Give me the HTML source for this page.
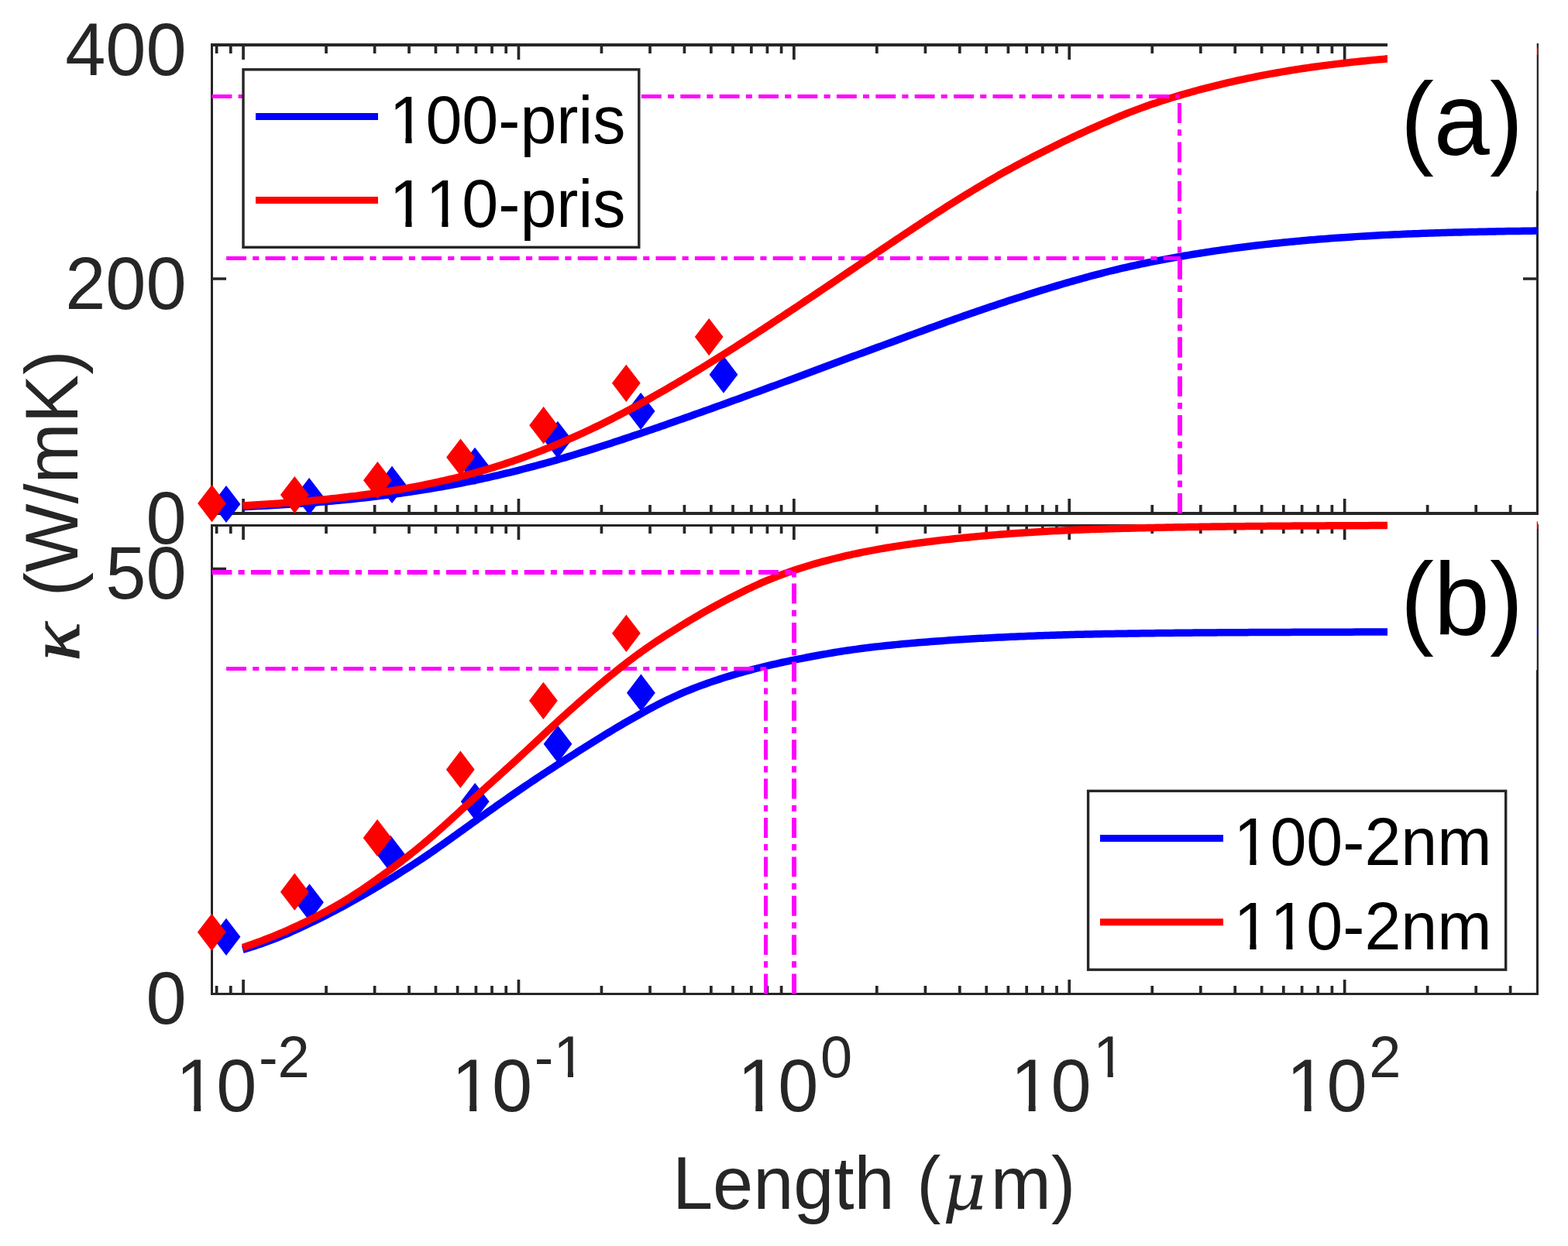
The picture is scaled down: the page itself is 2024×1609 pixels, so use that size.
<!DOCTYPE html>
<html lang="en"><head><meta charset="utf-8"><title>Thermal conductivity vs length</title>
<style>html,body{margin:0;padding:0;background:#fff}body{width:2024px;height:1609px;overflow:hidden;position:relative}</style></head>
<body>
<svg role="img" aria-label="Thermal conductivity versus length, panels (a) and (b)" width="2024" height="1609" viewBox="0 0 2024 1609" style="position:absolute;left:0;top:0;display:block;font-kerning:none" font-family="'Liberation Sans', Arial, Helvetica, sans-serif">
<rect width="2024" height="1609" fill="#fff"/>
<g fill="#262626" shape-rendering="crispEdges">
<rect x="272" y="56" width="1714" height="4"/>
<rect x="272" y="661" width="1714" height="4"/>
<rect x="272" y="56" width="3" height="609"/>
<rect x="1983" y="56" width="3" height="609"/>
</g>
<path d="M279.61 662v-10.0M279.61 59v10.0M297.79 662v-10.0M297.79 59v10.0M314.05 662v-18.0M314.05 59v18.0M421.04 662v-10.0M421.04 59v10.0M483.62 662v-10.0M483.62 59v10.0M528.02 662v-10.0M528.02 59v10.0M562.46 662v-10.0M562.46 59v10.0M590.60 662v-10.0M590.60 59v10.0M614.40 662v-10.0M614.40 59v10.0M635.01 662v-10.0M635.01 59v10.0M653.19 662v-10.0M653.19 59v10.0M669.45 662v-18.0M669.45 59v18.0M776.44 662v-10.0M776.44 59v10.0M839.02 662v-10.0M839.02 59v10.0M883.42 662v-10.0M883.42 59v10.0M917.86 662v-10.0M917.86 59v10.0M946.00 662v-10.0M946.00 59v10.0M969.80 662v-10.0M969.80 59v10.0M990.41 662v-10.0M990.41 59v10.0M1008.59 662v-10.0M1008.59 59v10.0M1024.85 662v-18.0M1024.85 59v18.0M1131.84 662v-10.0M1131.84 59v10.0M1194.42 662v-10.0M1194.42 59v10.0M1238.82 662v-10.0M1238.82 59v10.0M1273.26 662v-10.0M1273.26 59v10.0M1301.40 662v-10.0M1301.40 59v10.0M1325.20 662v-10.0M1325.20 59v10.0M1345.81 662v-10.0M1345.81 59v10.0M1363.99 662v-10.0M1363.99 59v10.0M1380.25 662v-18.0M1380.25 59v18.0M1487.24 662v-10.0M1487.24 59v10.0M1549.82 662v-10.0M1549.82 59v10.0M1594.22 662v-10.0M1594.22 59v10.0M1628.66 662v-10.0M1628.66 59v10.0M1656.80 662v-10.0M1656.80 59v10.0M1680.60 662v-10.0M1680.60 59v10.0M1701.21 662v-10.0M1701.21 59v10.0M1719.39 662v-10.0M1719.39 59v10.0M1735.65 662v-18.0M1735.65 59v18.0M1842.64 662v-10.0M1842.64 59v10.0M1905.22 662v-10.0M1905.22 59v10.0M1949.62 662v-10.0M1949.62 59v10.0M274 360.0h18M1984 360.0h-18" stroke="#262626" stroke-width="3.7" fill="none"/>
<path d="M313.3 654.60 L317.3 654.42 L321.3 654.22 L325.3 654.03 L329.3 653.82 L333.3 653.62 L337.3 653.41 L341.3 653.19 L345.3 652.97 L349.3 652.74 L353.3 652.51 L357.3 652.27 L361.3 652.03 L365.3 651.78 L369.3 651.53 L373.3 651.27 L377.3 651.00 L381.3 650.73 L385.3 650.45 L389.3 650.17 L393.3 649.88 L397.3 649.58 L401.3 649.27 L405.3 648.96 L409.3 648.65 L413.3 648.32 L417.3 647.99 L421.3 647.65 L425.3 647.30 L429.3 646.95 L433.3 646.58 L437.3 646.21 L441.3 645.84 L445.3 645.45 L449.3 645.05 L453.3 644.65 L457.3 644.24 L461.3 643.82 L465.3 643.39 L469.3 642.95 L473.3 642.50 L477.3 642.04 L481.3 641.58 L485.3 641.10 L489.3 640.62 L493.3 640.12 L497.3 639.62 L501.3 639.10 L505.3 638.58 L509.3 638.04 L513.3 637.50 L517.3 636.94 L521.3 636.37 L525.3 635.80 L529.3 635.21 L533.3 634.61 L537.3 634.00 L541.3 633.38 L545.3 632.75 L549.3 632.11 L553.3 631.46 L557.3 630.79 L561.3 630.12 L565.3 629.43 L569.3 628.73 L573.3 628.02 L577.3 627.30 L581.3 626.56 L585.3 625.81 L589.3 625.05 L593.3 624.28 L597.3 623.50 L601.3 622.70 L605.3 621.90 L609.3 621.08 L613.3 620.24 L617.3 619.40 L621.3 618.54 L625.3 617.67 L629.3 616.79 L633.3 615.90 L637.3 614.99 L641.3 614.07 L645.3 613.14 L649.3 612.19 L653.3 611.24 L657.3 610.27 L661.3 609.29 L665.3 608.30 L669.3 607.29 L673.3 606.27 L677.3 605.24 L681.3 604.20 L685.3 603.15 L689.3 602.09 L693.3 601.01 L697.3 599.93 L701.3 598.83 L705.3 597.72 L709.3 596.60 L713.3 595.47 L717.3 594.33 L721.3 593.18 L725.3 592.01 L729.3 590.84 L733.3 589.66 L737.3 588.47 L741.3 587.27 L745.3 586.05 L749.3 584.83 L753.3 583.60 L757.3 582.36 L761.3 581.12 L765.3 579.86 L769.3 578.60 L773.3 577.32 L777.3 576.04 L781.3 574.76 L785.3 573.46 L789.3 572.16 L793.3 570.85 L797.3 569.53 L801.3 568.21 L805.3 566.88 L809.3 565.55 L813.3 564.21 L817.3 562.86 L821.3 561.51 L825.3 560.15 L829.3 558.79 L833.3 557.42 L837.3 556.05 L841.3 554.68 L845.3 553.30 L849.3 551.92 L853.3 550.53 L857.3 549.14 L861.3 547.74 L865.3 546.35 L869.3 544.95 L873.3 543.54 L877.3 542.14 L881.3 540.73 L885.3 539.31 L889.3 537.90 L893.3 536.48 L897.3 535.06 L901.3 533.64 L905.3 532.21 L909.3 530.78 L913.3 529.35 L917.3 527.92 L921.3 526.48 L925.3 525.05 L929.3 523.61 L933.3 522.17 L937.3 520.72 L941.3 519.28 L945.3 517.83 L949.3 516.38 L953.3 514.93 L957.3 513.48 L961.3 512.02 L965.3 510.56 L969.3 509.10 L973.3 507.64 L977.3 506.18 L981.3 504.71 L985.3 503.25 L989.3 501.78 L993.3 500.30 L997.3 498.83 L1001.3 497.35 L1005.3 495.88 L1009.3 494.40 L1013.3 492.91 L1017.3 491.43 L1021.3 489.94 L1025.3 488.45 L1029.3 486.96 L1033.3 485.47 L1037.3 483.97 L1041.3 482.48 L1045.3 480.98 L1049.3 479.48 L1053.3 477.97 L1057.3 476.47 L1061.3 474.97 L1065.3 473.47 L1069.3 471.96 L1073.3 470.47 L1077.3 468.97 L1081.3 467.48 L1085.3 465.99 L1089.3 464.50 L1093.3 463.02 L1097.3 461.55 L1101.3 460.08 L1105.3 458.61 L1109.3 457.14 L1113.3 455.67 L1117.3 454.21 L1121.3 452.74 L1125.3 451.27 L1129.3 449.80 L1133.3 448.33 L1137.3 446.86 L1141.3 445.39 L1145.3 443.91 L1149.3 442.43 L1153.3 440.96 L1157.3 439.48 L1161.3 438.00 L1165.3 436.52 L1169.3 435.05 L1173.3 433.57 L1177.3 432.10 L1181.3 430.63 L1185.3 429.16 L1189.3 427.69 L1193.3 426.22 L1197.3 424.76 L1201.3 423.30 L1205.3 421.85 L1209.3 420.40 L1213.3 418.95 L1217.3 417.51 L1221.3 416.07 L1225.3 414.64 L1229.3 413.21 L1233.3 411.79 L1237.3 410.38 L1241.3 408.97 L1245.3 407.56 L1249.3 406.17 L1253.3 404.77 L1257.3 403.39 L1261.3 402.01 L1265.3 400.64 L1269.3 399.28 L1273.3 397.92 L1277.3 396.57 L1281.3 395.23 L1285.3 393.89 L1289.3 392.56 L1293.3 391.23 L1297.3 389.92 L1301.3 388.61 L1305.3 387.30 L1309.3 386.00 L1313.3 384.71 L1317.3 383.43 L1321.3 382.15 L1325.3 380.88 L1329.3 379.62 L1333.3 378.37 L1337.3 377.12 L1341.3 375.88 L1345.3 374.66 L1349.3 373.44 L1353.3 372.23 L1357.3 371.02 L1361.3 369.83 L1365.3 368.64 L1369.3 367.47 L1373.3 366.30 L1377.3 365.14 L1381.3 363.99 L1385.3 362.85 L1389.3 361.71 L1393.3 360.59 L1397.3 359.48 L1401.3 358.37 L1405.3 357.28 L1409.3 356.20 L1413.3 355.14 L1417.3 354.08 L1421.3 353.04 L1425.3 352.02 L1429.3 351.01 L1433.3 350.01 L1437.3 349.03 L1441.3 348.07 L1445.3 347.12 L1449.3 346.19 L1453.3 345.27 L1457.3 344.37 L1461.3 343.49 L1465.3 342.62 L1469.3 341.76 L1473.3 340.92 L1477.3 340.08 L1481.3 339.27 L1485.3 338.46 L1489.3 337.66 L1493.3 336.88 L1497.3 336.11 L1501.3 335.34 L1505.3 334.59 L1509.3 333.85 L1513.3 333.12 L1517.3 332.39 L1521.3 331.68 L1525.3 330.98 L1529.3 330.29 L1533.3 329.61 L1537.3 328.94 L1541.3 328.28 L1545.3 327.63 L1549.3 326.99 L1553.3 326.35 L1557.3 325.73 L1561.3 325.12 L1565.3 324.52 L1569.3 323.92 L1573.3 323.34 L1577.3 322.77 L1581.3 322.20 L1585.3 321.64 L1589.3 321.10 L1593.3 320.56 L1597.3 320.03 L1601.3 319.51 L1605.3 318.99 L1609.3 318.49 L1613.3 318.00 L1617.3 317.51 L1621.3 317.03 L1625.3 316.56 L1629.3 316.10 L1633.3 315.65 L1637.3 315.20 L1641.3 314.76 L1645.3 314.33 L1649.3 313.91 L1653.3 313.50 L1657.3 313.09 L1661.3 312.69 L1665.3 312.30 L1669.3 311.92 L1673.3 311.54 L1677.3 311.17 L1681.3 310.81 L1685.3 310.45 L1689.3 310.10 L1693.3 309.76 L1697.3 309.42 L1701.3 309.10 L1705.3 308.77 L1709.3 308.46 L1713.3 308.15 L1717.3 307.84 L1721.3 307.55 L1725.3 307.25 L1729.3 306.97 L1733.3 306.69 L1737.3 306.42 L1741.3 306.15 L1745.3 305.89 L1749.3 305.63 L1753.3 305.38 L1757.3 305.13 L1761.3 304.90 L1765.3 304.66 L1769.3 304.44 L1773.3 304.21 L1777.3 304.00 L1781.3 303.79 L1785.3 303.58 L1789.3 303.38 L1793.3 303.19 L1797.3 303.00 L1801.3 302.81 L1805.3 302.63 L1809.3 302.46 L1813.3 302.29 L1817.3 302.12 L1821.3 301.96 L1825.3 301.80 L1829.3 301.65 L1833.3 301.50 L1837.3 301.35 L1841.3 301.21 L1845.3 301.07 L1849.3 300.94 L1853.3 300.81 L1857.3 300.68 L1861.3 300.56 L1865.3 300.44 L1869.3 300.32 L1873.3 300.20 L1877.3 300.09 L1881.3 299.98 L1885.3 299.88 L1889.3 299.78 L1893.3 299.68 L1897.3 299.58 L1901.3 299.49 L1905.3 299.39 L1909.3 299.31 L1913.3 299.22 L1917.3 299.14 L1921.3 299.05 L1925.3 298.98 L1929.3 298.90 L1933.3 298.83 L1937.3 298.76 L1941.3 298.69 L1945.3 298.62 L1949.3 298.56 L1953.3 298.50 L1957.3 298.44 L1961.3 298.38 L1965.3 298.32 L1969.3 298.27 L1973.3 298.21 L1977.3 298.15 L1981.3 298.10 L1985.2 298.05" stroke="#0000ff" stroke-width="9.5" fill="none" stroke-linejoin="round"/>
<path d="M292.0 626.9L310.4 651.0L292.0 675.1L273.6 651.0Z" fill="#0000ff"/><path d="M399.1 616.9L417.5 641.0L399.1 665.1L380.7 641.0Z" fill="#0000ff"/><path d="M506.0 601.8L524.4 625.9L506.0 650.0L487.6 625.9Z" fill="#0000ff"/><path d="M613.0 577.7L631.4 601.8L613.0 625.9L594.6 601.8Z" fill="#0000ff"/><path d="M719.9 543.7L738.3 567.8L719.9 591.9L701.5 567.8Z" fill="#0000ff"/><path d="M827.1 506.9L845.5 531.0L827.1 555.1L808.7 531.0Z" fill="#0000ff"/><path d="M934.0 459.6L952.4 483.7L934.0 507.8L915.6 483.7Z" fill="#0000ff"/>
<g stroke="#ff00ff" fill="none" stroke-dasharray="25.9 8.2 8.1 8.2"><path d="M292.1 333.5H1523.8" stroke-width="5"/><path d="M1523.5 663.0V333.5" stroke-width="5"/></g>
<path d="M273.5 626.0L291.9 650.1L273.5 674.2L255.1 650.1Z" fill="#ff0000"/><path d="M380.3 614.9L398.7 639.0L380.3 663.1L361.9 639.0Z" fill="#ff0000"/><path d="M487.4 596.1L505.8 620.2L487.4 644.3L469.0 620.2Z" fill="#ff0000"/><path d="M594.5 566.4L612.9 590.5L594.5 614.6L576.1 590.5Z" fill="#ff0000"/><path d="M701.6 525.1L720.0 549.2L701.6 573.3L683.2 549.2Z" fill="#ff0000"/><path d="M808.3 470.7L826.7 494.8L808.3 518.9L789.9 494.8Z" fill="#ff0000"/><path d="M915.2 411.0L933.6 435.1L915.2 459.2L896.8 435.1Z" fill="#ff0000"/>
<path d="M313.3 652.90 L317.3 652.68 L321.3 652.45 L325.3 652.22 L329.3 651.99 L333.3 651.74 L337.3 651.50 L341.3 651.24 L345.3 650.98 L349.3 650.71 L353.3 650.44 L357.3 650.16 L361.3 649.88 L365.3 649.58 L369.3 649.28 L373.3 648.97 L377.3 648.66 L381.3 648.33 L385.3 648.00 L389.3 647.67 L393.3 647.32 L397.3 646.96 L401.3 646.60 L405.3 646.23 L409.3 645.85 L413.3 645.46 L417.3 645.06 L421.3 644.66 L425.3 644.24 L429.3 643.82 L433.3 643.39 L437.3 642.95 L441.3 642.50 L445.3 642.04 L449.3 641.57 L453.3 641.08 L457.3 640.59 L461.3 640.09 L465.3 639.58 L469.3 639.06 L473.3 638.52 L477.3 637.98 L481.3 637.42 L485.3 636.85 L489.3 636.26 L493.3 635.67 L497.3 635.05 L501.3 634.43 L505.3 633.79 L509.3 633.14 L513.3 632.47 L517.3 631.79 L521.3 631.09 L525.3 630.38 L529.3 629.65 L533.3 628.91 L537.3 628.15 L541.3 627.38 L545.3 626.59 L549.3 625.78 L553.3 624.96 L557.3 624.12 L561.3 623.26 L565.3 622.39 L569.3 621.49 L573.3 620.58 L577.3 619.66 L581.3 618.71 L585.3 617.75 L589.3 616.77 L593.3 615.76 L597.3 614.74 L601.3 613.71 L605.3 612.65 L609.3 611.57 L613.3 610.47 L617.3 609.35 L621.3 608.21 L625.3 607.06 L629.3 605.88 L633.3 604.68 L637.3 603.46 L641.3 602.22 L645.3 600.95 L649.3 599.67 L653.3 598.37 L657.3 597.04 L661.3 595.69 L665.3 594.32 L669.3 592.93 L673.3 591.52 L677.3 590.09 L681.3 588.63 L685.3 587.15 L689.3 585.65 L693.3 584.13 L697.3 582.59 L701.3 581.02 L705.3 579.43 L709.3 577.82 L713.3 576.19 L717.3 574.54 L721.3 572.86 L725.3 571.17 L729.3 569.45 L733.3 567.71 L737.3 565.95 L741.3 564.17 L745.3 562.36 L749.3 560.54 L753.3 558.69 L757.3 556.82 L761.3 554.94 L765.3 553.03 L769.3 551.10 L773.3 549.16 L777.3 547.19 L781.3 545.20 L785.3 543.20 L789.3 541.17 L793.3 539.13 L797.3 537.06 L801.3 534.98 L805.3 532.88 L809.3 530.77 L813.3 528.63 L817.3 526.48 L821.3 524.32 L825.3 522.13 L829.3 519.93 L833.3 517.71 L837.3 515.48 L841.3 513.24 L845.3 510.97 L849.3 508.70 L853.3 506.41 L857.3 504.10 L861.3 501.78 L865.3 499.45 L869.3 497.11 L873.3 494.75 L877.3 492.38 L881.3 490.00 L885.3 487.60 L889.3 485.20 L893.3 482.78 L897.3 480.35 L901.3 477.91 L905.3 475.46 L909.3 473.01 L913.3 470.54 L917.3 468.06 L921.3 465.57 L925.3 463.07 L929.3 460.56 L933.3 458.05 L937.3 455.53 L941.3 452.99 L945.3 450.45 L949.3 447.91 L953.3 445.35 L957.3 442.79 L961.3 440.22 L965.3 437.64 L969.3 435.05 L973.3 432.46 L977.3 429.87 L981.3 427.26 L985.3 424.65 L989.3 422.04 L993.3 419.41 L997.3 416.79 L1001.3 414.15 L1005.3 411.52 L1009.3 408.87 L1013.3 406.22 L1017.3 403.57 L1021.3 400.91 L1025.3 398.25 L1029.3 395.58 L1033.3 392.91 L1037.3 390.24 L1041.3 387.56 L1045.3 384.88 L1049.3 382.19 L1053.3 379.50 L1057.3 376.81 L1061.3 374.11 L1065.3 371.42 L1069.3 368.72 L1073.3 366.02 L1077.3 363.31 L1081.3 360.61 L1085.3 357.90 L1089.3 355.19 L1093.3 352.48 L1097.3 349.77 L1101.3 347.06 L1105.3 344.35 L1109.3 341.64 L1113.3 338.93 L1117.3 336.23 L1121.3 333.52 L1125.3 330.81 L1129.3 328.11 L1133.3 325.41 L1137.3 322.71 L1141.3 320.01 L1145.3 317.32 L1149.3 314.63 L1153.3 311.95 L1157.3 309.27 L1161.3 306.59 L1165.3 303.92 L1169.3 301.26 L1173.3 298.60 L1177.3 295.95 L1181.3 293.31 L1185.3 290.67 L1189.3 288.04 L1193.3 285.42 L1197.3 282.81 L1201.3 280.21 L1205.3 277.62 L1209.3 275.04 L1213.3 272.47 L1217.3 269.91 L1221.3 267.36 L1225.3 264.82 L1229.3 262.30 L1233.3 259.79 L1237.3 257.29 L1241.3 254.80 L1245.3 252.33 L1249.3 249.88 L1253.3 247.44 L1257.3 245.01 L1261.3 242.60 L1265.3 240.21 L1269.3 237.83 L1273.3 235.47 L1277.3 233.13 L1281.3 230.81 L1285.3 228.50 L1289.3 226.22 L1293.3 223.97 L1297.3 221.73 L1301.3 219.52 L1305.3 217.33 L1309.3 215.16 L1313.3 213.01 L1317.3 210.88 L1321.3 208.77 L1325.3 206.68 L1329.3 204.60 L1333.3 202.53 L1337.3 200.48 L1341.3 198.44 L1345.3 196.41 L1349.3 194.39 L1353.3 192.39 L1357.3 190.39 L1361.3 188.42 L1365.3 186.46 L1369.3 184.51 L1373.3 182.59 L1377.3 180.68 L1381.3 178.78 L1385.3 176.90 L1389.3 175.04 L1393.3 173.18 L1397.3 171.34 L1401.3 169.51 L1405.3 167.69 L1409.3 165.88 L1413.3 164.09 L1417.3 162.30 L1421.3 160.53 L1425.3 158.77 L1429.3 157.03 L1433.3 155.30 L1437.3 153.60 L1441.3 151.91 L1445.3 150.25 L1449.3 148.62 L1453.3 147.00 L1457.3 145.42 L1461.3 143.87 L1465.3 142.34 L1469.3 140.84 L1473.3 139.37 L1477.3 137.92 L1481.3 136.50 L1485.3 135.11 L1489.3 133.75 L1493.3 132.41 L1497.3 131.09 L1501.3 129.79 L1505.3 128.52 L1509.3 127.26 L1513.3 126.03 L1517.3 124.81 L1521.3 123.61 L1525.3 122.43 L1529.3 121.26 L1533.3 120.12 L1537.3 118.99 L1541.3 117.87 L1545.3 116.78 L1549.3 115.70 L1553.3 114.64 L1557.3 113.59 L1561.3 112.56 L1565.3 111.55 L1569.3 110.55 L1573.3 109.57 L1577.3 108.60 L1581.3 107.65 L1585.3 106.72 L1589.3 105.80 L1593.3 104.90 L1597.3 104.01 L1601.3 103.13 L1605.3 102.27 L1609.3 101.43 L1613.3 100.60 L1617.3 99.79 L1621.3 98.98 L1625.3 98.20 L1629.3 97.42 L1633.3 96.66 L1637.3 95.92 L1641.3 95.19 L1645.3 94.47 L1649.3 93.76 L1653.3 93.07 L1657.3 92.39 L1661.3 91.72 L1665.3 91.06 L1669.3 90.42 L1673.3 89.79 L1677.3 89.17 L1681.3 88.56 L1685.3 87.97 L1689.3 87.38 L1693.3 86.81 L1697.3 86.25 L1701.3 85.70 L1705.3 85.16 L1709.3 84.63 L1713.3 84.11 L1717.3 83.60 L1721.3 83.10 L1725.3 82.62 L1729.3 82.14 L1733.3 81.67 L1737.3 81.21 L1741.3 80.76 L1745.3 80.32 L1749.3 79.89 L1753.3 79.47 L1757.3 79.06 L1761.3 78.66 L1765.3 78.26 L1769.3 77.87 L1773.3 77.49 L1777.3 77.12 L1781.3 76.76 L1785.3 76.41 L1789.3 76.06 L1793.3 75.72 L1797.3 75.39 L1801.3 75.06 L1805.3 74.75 L1809.3 74.44 L1813.3 74.13 L1817.3 73.83 L1821.3 73.54 L1825.3 73.26 L1829.3 72.98 L1833.3 72.71 L1837.3 72.45 L1841.3 72.19 L1845.3 71.93 L1849.3 71.69 L1853.3 71.45 L1857.3 71.21 L1861.3 70.98 L1865.3 70.75 L1869.3 70.53 L1873.3 70.32 L1877.3 70.11 L1881.3 69.90 L1885.3 69.70 L1889.3 69.51 L1893.3 69.31 L1897.3 69.13 L1901.3 68.94 L1905.3 68.77 L1909.3 68.59 L1913.3 68.42 L1917.3 68.26 L1921.3 68.09 L1925.3 67.94 L1929.3 67.78 L1933.3 67.63 L1937.3 67.49 L1941.3 67.34 L1945.3 67.20 L1949.3 67.06 L1953.3 66.93 L1957.3 66.80 L1961.3 66.67 L1965.3 66.55 L1969.3 66.43 L1973.3 66.31 L1977.3 66.20 L1981.3 66.08 L1985.2 65.98" stroke="#ff0000" stroke-width="9.5" fill="none" stroke-linejoin="round"/>
<g stroke="#ff00ff" fill="none" stroke-dasharray="25.9 8.2 8.1 8.2"><path d="M273.5 124.5H1522.8" stroke-width="5"/><path d="M1522.5 663.0V125.1" stroke-width="5"/></g>
<g fill="#262626" shape-rendering="crispEdges">
<rect x="272" y="677" width="1714" height="3"/>
<rect x="272" y="1282" width="1714" height="3"/>
<rect x="272" y="677" width="3" height="608"/>
<rect x="1983" y="677" width="3" height="608"/>
</g>
<path d="M279.61 1283v-10.0M279.61 679v10.0M297.79 1283v-10.0M297.79 679v10.0M314.05 1283v-18.0M314.05 679v18.0M421.04 1283v-10.0M421.04 679v10.0M483.62 1283v-10.0M483.62 679v10.0M528.02 1283v-10.0M528.02 679v10.0M562.46 1283v-10.0M562.46 679v10.0M590.60 1283v-10.0M590.60 679v10.0M614.40 1283v-10.0M614.40 679v10.0M635.01 1283v-10.0M635.01 679v10.0M653.19 1283v-10.0M653.19 679v10.0M669.45 1283v-18.0M669.45 679v18.0M776.44 1283v-10.0M776.44 679v10.0M839.02 1283v-10.0M839.02 679v10.0M883.42 1283v-10.0M883.42 679v10.0M917.86 1283v-10.0M917.86 679v10.0M946.00 1283v-10.0M946.00 679v10.0M969.80 1283v-10.0M969.80 679v10.0M990.41 1283v-10.0M990.41 679v10.0M1008.59 1283v-10.0M1008.59 679v10.0M1024.85 1283v-18.0M1024.85 679v18.0M1131.84 1283v-10.0M1131.84 679v10.0M1194.42 1283v-10.0M1194.42 679v10.0M1238.82 1283v-10.0M1238.82 679v10.0M1273.26 1283v-10.0M1273.26 679v10.0M1301.40 1283v-10.0M1301.40 679v10.0M1325.20 1283v-10.0M1325.20 679v10.0M1345.81 1283v-10.0M1345.81 679v10.0M1363.99 1283v-10.0M1363.99 679v10.0M1380.25 1283v-18.0M1380.25 679v18.0M1487.24 1283v-10.0M1487.24 679v10.0M1549.82 1283v-10.0M1549.82 679v10.0M1594.22 1283v-10.0M1594.22 679v10.0M1628.66 1283v-10.0M1628.66 679v10.0M1656.80 1283v-10.0M1656.80 679v10.0M1680.60 1283v-10.0M1680.60 679v10.0M1701.21 1283v-10.0M1701.21 679v10.0M1719.39 1283v-10.0M1719.39 679v10.0M1735.65 1283v-18.0M1735.65 679v18.0M1842.64 1283v-10.0M1842.64 679v10.0M1905.22 1283v-10.0M1905.22 679v10.0M1949.62 1283v-10.0M1949.62 679v10.0M274 734.5h18M1984 734.5h-18" stroke="#262626" stroke-width="3.7" fill="none"/>
<path d="M313.3 1226.33 L317.3 1225.14 L321.3 1223.92 L325.3 1222.67 L329.3 1221.37 L333.3 1220.04 L337.3 1218.68 L341.3 1217.27 L345.3 1215.82 L349.3 1214.33 L353.3 1212.80 L357.3 1211.22 L361.3 1209.61 L365.3 1207.95 L369.3 1206.26 L373.3 1204.53 L377.3 1202.76 L381.3 1200.97 L385.3 1199.14 L389.3 1197.28 L393.3 1195.40 L397.3 1193.50 L401.3 1191.58 L405.3 1189.63 L409.3 1187.66 L413.3 1185.68 L417.3 1183.67 L421.3 1181.65 L425.3 1179.60 L429.3 1177.53 L433.3 1175.44 L437.3 1173.33 L441.3 1171.20 L445.3 1169.04 L449.3 1166.86 L453.3 1164.66 L457.3 1162.43 L461.3 1160.18 L465.3 1157.91 L469.3 1155.61 L473.3 1153.30 L477.3 1150.96 L481.3 1148.60 L485.3 1146.23 L489.3 1143.83 L493.3 1141.42 L497.3 1138.99 L501.3 1136.54 L505.3 1134.08 L509.3 1131.60 L513.3 1129.11 L517.3 1126.60 L521.3 1124.07 L525.3 1121.53 L529.3 1118.96 L533.3 1116.37 L537.3 1113.76 L541.3 1111.12 L545.3 1108.45 L549.3 1105.76 L553.3 1103.04 L557.3 1100.29 L561.3 1097.52 L565.3 1094.72 L569.3 1091.90 L573.3 1089.07 L577.3 1086.21 L581.3 1083.35 L585.3 1080.48 L589.3 1077.60 L593.3 1074.72 L597.3 1071.84 L601.3 1068.96 L605.3 1066.09 L609.3 1063.22 L613.3 1060.36 L617.3 1057.50 L621.3 1054.64 L625.3 1051.80 L629.3 1048.95 L633.3 1046.12 L637.3 1043.29 L641.3 1040.47 L645.3 1037.66 L649.3 1034.85 L653.3 1032.06 L657.3 1029.27 L661.3 1026.50 L665.3 1023.74 L669.3 1020.99 L673.3 1018.26 L677.3 1015.53 L681.3 1012.83 L685.3 1010.13 L689.3 1007.45 L693.3 1004.79 L697.3 1002.14 L701.3 999.51 L705.3 996.89 L709.3 994.28 L713.3 991.69 L717.3 989.10 L721.3 986.52 L725.3 983.94 L729.3 981.37 L733.3 978.80 L737.3 976.23 L741.3 973.67 L745.3 971.11 L749.3 968.55 L753.3 966.00 L757.3 963.46 L761.3 960.93 L765.3 958.42 L769.3 955.92 L773.3 953.44 L777.3 950.98 L781.3 948.53 L785.3 946.11 L789.3 943.70 L793.3 941.30 L797.3 938.92 L801.3 936.56 L805.3 934.22 L809.3 931.89 L813.3 929.57 L817.3 927.28 L821.3 925.01 L825.3 922.75 L829.3 920.53 L833.3 918.33 L837.3 916.15 L841.3 914.01 L845.3 911.90 L849.3 909.83 L853.3 907.79 L857.3 905.80 L861.3 903.84 L865.3 901.92 L869.3 900.04 L873.3 898.21 L877.3 896.43 L881.3 894.68 L885.3 892.99 L889.3 891.33 L893.3 889.72 L897.3 888.16 L901.3 886.63 L905.3 885.14 L909.3 883.69 L913.3 882.27 L917.3 880.88 L921.3 879.52 L925.3 878.19 L929.3 876.88 L933.3 875.60 L937.3 874.34 L941.3 873.10 L945.3 871.89 L949.3 870.70 L953.3 869.53 L957.3 868.39 L961.3 867.26 L965.3 866.16 L969.3 865.08 L973.3 864.03 L977.3 863.00 L981.3 861.99 L985.3 861.00 L989.3 860.03 L993.3 859.09 L997.3 858.17 L1001.3 857.26 L1005.3 856.37 L1009.3 855.51 L1013.3 854.65 L1017.3 853.81 L1021.3 852.99 L1025.3 852.17 L1029.3 851.37 L1033.3 850.57 L1037.3 849.79 L1041.3 849.01 L1045.3 848.25 L1049.3 847.49 L1053.3 846.75 L1057.3 846.01 L1061.3 845.29 L1065.3 844.58 L1069.3 843.88 L1073.3 843.20 L1077.3 842.53 L1081.3 841.88 L1085.3 841.25 L1089.3 840.64 L1093.3 840.04 L1097.3 839.45 L1101.3 838.89 L1105.3 838.34 L1109.3 837.80 L1113.3 837.28 L1117.3 836.78 L1121.3 836.29 L1125.3 835.81 L1129.3 835.34 L1133.3 834.88 L1137.3 834.44 L1141.3 834.00 L1145.3 833.58 L1149.3 833.16 L1153.3 832.76 L1157.3 832.36 L1161.3 831.98 L1165.3 831.60 L1169.3 831.23 L1173.3 830.87 L1177.3 830.52 L1181.3 830.18 L1185.3 829.85 L1189.3 829.52 L1193.3 829.20 L1197.3 828.89 L1201.3 828.58 L1205.3 828.28 L1209.3 827.99 L1213.3 827.70 L1217.3 827.41 L1221.3 827.13 L1225.3 826.86 L1229.3 826.59 L1233.3 826.32 L1237.3 826.06 L1241.3 825.80 L1245.3 825.55 L1249.3 825.31 L1253.3 825.06 L1257.3 824.83 L1261.3 824.59 L1265.3 824.36 L1269.3 824.14 L1273.3 823.92 L1277.3 823.71 L1281.3 823.50 L1285.3 823.30 L1289.3 823.10 L1293.3 822.90 L1297.3 822.71 L1301.3 822.53 L1305.3 822.35 L1309.3 822.17 L1313.3 821.99 L1317.3 821.82 L1321.3 821.66 L1325.3 821.49 L1329.3 821.33 L1333.3 821.17 L1337.3 821.02 L1341.3 820.87 L1345.3 820.72 L1349.3 820.58 L1353.3 820.44 L1357.3 820.30 L1361.3 820.17 L1365.3 820.04 L1369.3 819.92 L1373.3 819.80 L1377.3 819.69 L1381.3 819.58 L1385.3 819.47 L1389.3 819.37 L1393.3 819.27 L1397.3 819.17 L1401.3 819.08 L1405.3 819.00 L1409.3 818.91 L1413.3 818.83 L1417.3 818.75 L1421.3 818.68 L1425.3 818.60 L1429.3 818.53 L1433.3 818.46 L1437.3 818.39 L1441.3 818.32 L1445.3 818.26 L1449.3 818.20 L1453.3 818.13 L1457.3 818.07 L1461.3 818.02 L1465.3 817.96 L1469.3 817.90 L1473.3 817.85 L1477.3 817.80 L1481.3 817.74 L1485.3 817.69 L1489.3 817.65 L1493.3 817.60 L1497.3 817.55 L1501.3 817.51 L1505.3 817.46 L1509.3 817.42 L1513.3 817.38 L1517.3 817.34 L1521.3 817.30 L1525.3 817.26 L1529.3 817.22 L1533.3 817.18 L1537.3 817.15 L1541.3 817.11 L1545.3 817.08 L1549.3 817.05 L1553.3 817.01 L1557.3 816.98 L1561.3 816.95 L1565.3 816.92 L1569.3 816.89 L1573.3 816.86 L1577.3 816.83 L1581.3 816.81 L1585.3 816.78 L1589.3 816.76 L1593.3 816.73 L1597.3 816.71 L1601.3 816.68 L1605.3 816.66 L1609.3 816.64 L1613.3 816.61 L1617.3 816.59 L1621.3 816.57 L1625.3 816.55 L1629.3 816.53 L1633.3 816.51 L1637.3 816.49 L1641.3 816.48 L1645.3 816.46 L1649.3 816.44 L1653.3 816.42 L1657.3 816.41 L1661.3 816.39 L1665.3 816.38 L1669.3 816.36 L1673.3 816.34 L1677.3 816.33 L1681.3 816.32 L1685.3 816.30 L1689.3 816.29 L1693.3 816.28 L1697.3 816.26 L1701.3 816.25 L1705.3 816.24 L1709.3 816.23 L1713.3 816.22 L1717.3 816.20 L1721.3 816.19 L1725.3 816.18 L1729.3 816.17 L1733.3 816.16 L1737.3 816.15 L1741.3 816.14 L1745.3 816.13 L1749.3 816.12 L1753.3 816.11 L1757.3 816.11 L1761.3 816.10 L1765.3 816.09 L1769.3 816.08 L1773.3 816.07 L1777.3 816.07 L1781.3 816.06 L1785.3 816.05 L1789.3 816.04 L1793.3 816.04 L1797.3 816.03 L1801.3 816.02 L1805.3 816.02 L1809.3 816.01 L1813.3 816.01 L1817.3 816.00 L1821.3 815.99 L1825.3 815.99 L1829.3 815.98 L1833.3 815.98 L1837.3 815.97 L1841.3 815.97 L1845.3 815.96 L1849.3 815.96 L1853.3 815.95 L1857.3 815.95 L1861.3 815.94 L1865.3 815.94 L1869.3 815.94 L1873.3 815.93 L1877.3 815.93 L1881.3 815.92 L1885.3 815.92 L1889.3 815.92 L1893.3 815.91 L1897.3 815.91 L1901.3 815.91 L1905.3 815.90 L1909.3 815.90 L1913.3 815.90 L1917.3 815.89 L1921.3 815.89 L1925.3 815.89 L1929.3 815.88 L1933.3 815.88 L1937.3 815.88 L1941.3 815.88 L1945.3 815.87 L1949.3 815.87 L1953.3 815.87 L1957.3 815.87 L1961.3 815.86 L1965.3 815.86 L1969.3 815.86 L1973.3 815.86 L1977.3 815.86 L1981.3 815.85 L1985.2 815.85" stroke="#0000ff" stroke-width="9.5" fill="none" stroke-linejoin="round"/>
<path d="M292.0 1185.7L310.4 1209.8L292.0 1233.9L273.6 1209.8Z" fill="#0000ff"/><path d="M399.5 1141.2L417.9 1165.3L399.5 1189.4L381.1 1165.3Z" fill="#0000ff"/><path d="M504.2 1078.7L522.6 1102.8L504.2 1126.9L485.8 1102.8Z" fill="#0000ff"/><path d="M613.2 1010.9L631.6 1035.0L613.2 1059.1L594.8 1035.0Z" fill="#0000ff"/><path d="M720.0 936.7L738.4 960.8L720.0 984.9L701.6 960.8Z" fill="#0000ff"/><path d="M827.4 870.6L845.8 894.7L827.4 918.8L809.0 894.7Z" fill="#0000ff"/>
<g stroke="#ff00ff" fill="none" stroke-dasharray="25.9 8.2 8.1 8.2"><path d="M292.1 863.5H988.8" stroke-width="5"/><path d="M988.5 1283.5V863.5" stroke-width="5"/></g>
<path d="M273.3 1179.7L291.7 1203.8L273.3 1227.9L254.9 1203.8Z" fill="#ff0000"/><path d="M380.3 1127.6L398.7 1151.7L380.3 1175.8L361.9 1151.7Z" fill="#ff0000"/><path d="M487.1 1057.9L505.5 1082.0L487.1 1106.1L468.7 1082.0Z" fill="#ff0000"/><path d="M594.3 969.6L612.7 993.7L594.3 1017.8L575.9 993.7Z" fill="#ff0000"/><path d="M701.4 880.7L719.8 904.8L701.4 928.9L683.0 904.8Z" fill="#ff0000"/><path d="M808.4 793.7L826.8 817.8L808.4 841.9L790.0 817.8Z" fill="#ff0000"/>
<path d="M313.3 1223.48 L317.3 1222.17 L321.3 1220.83 L325.3 1219.45 L329.3 1218.03 L333.3 1216.57 L337.3 1215.09 L341.3 1213.56 L345.3 1212.01 L349.3 1210.42 L353.3 1208.80 L357.3 1207.15 L361.3 1205.47 L365.3 1203.76 L369.3 1202.02 L373.3 1200.25 L377.3 1198.45 L381.3 1196.62 L385.3 1194.75 L389.3 1192.86 L393.3 1190.94 L397.3 1188.99 L401.3 1187.01 L405.3 1185.00 L409.3 1182.96 L413.3 1180.89 L417.3 1178.78 L421.3 1176.64 L425.3 1174.46 L429.3 1172.24 L433.3 1169.97 L437.3 1167.66 L441.3 1165.31 L445.3 1162.90 L449.3 1160.44 L453.3 1157.93 L457.3 1155.37 L461.3 1152.76 L465.3 1150.11 L469.3 1147.41 L473.3 1144.68 L477.3 1141.91 L481.3 1139.12 L485.3 1136.29 L489.3 1133.44 L493.3 1130.57 L497.3 1127.67 L501.3 1124.76 L505.3 1121.82 L509.3 1118.86 L513.3 1115.87 L517.3 1112.85 L521.3 1109.80 L525.3 1106.71 L529.3 1103.58 L533.3 1100.40 L537.3 1097.18 L541.3 1093.92 L545.3 1090.60 L549.3 1087.25 L553.3 1083.84 L557.3 1080.40 L561.3 1076.91 L565.3 1073.39 L569.3 1069.83 L573.3 1066.25 L577.3 1062.64 L581.3 1059.00 L585.3 1055.35 L589.3 1051.69 L593.3 1048.01 L597.3 1044.33 L601.3 1040.65 L605.3 1036.97 L609.3 1033.29 L613.3 1029.62 L617.3 1025.96 L621.3 1022.31 L625.3 1018.67 L629.3 1015.04 L633.3 1011.43 L637.3 1007.82 L641.3 1004.21 L645.3 1000.61 L649.3 997.00 L653.3 993.38 L657.3 989.76 L661.3 986.12 L665.3 982.46 L669.3 978.79 L673.3 975.10 L677.3 971.39 L681.3 967.67 L685.3 963.94 L689.3 960.21 L693.3 956.47 L697.3 952.73 L701.3 948.99 L705.3 945.27 L709.3 941.55 L713.3 937.85 L717.3 934.16 L721.3 930.49 L725.3 926.84 L729.3 923.20 L733.3 919.59 L737.3 916.00 L741.3 912.43 L745.3 908.88 L749.3 905.35 L753.3 901.85 L757.3 898.37 L761.3 894.92 L765.3 891.49 L769.3 888.08 L773.3 884.70 L777.3 881.34 L781.3 878.01 L785.3 874.71 L789.3 871.44 L793.3 868.20 L797.3 864.99 L801.3 861.82 L805.3 858.68 L809.3 855.58 L813.3 852.52 L817.3 849.50 L821.3 846.53 L825.3 843.61 L829.3 840.73 L833.3 837.90 L837.3 835.12 L841.3 832.38 L845.3 829.68 L849.3 827.03 L853.3 824.41 L857.3 821.82 L861.3 819.26 L865.3 816.73 L869.3 814.22 L873.3 811.73 L877.3 809.25 L881.3 806.79 L885.3 804.35 L889.3 801.93 L893.3 799.53 L897.3 797.15 L901.3 794.80 L905.3 792.48 L909.3 790.18 L913.3 787.92 L917.3 785.68 L921.3 783.47 L925.3 781.29 L929.3 779.14 L933.3 777.01 L937.3 774.90 L941.3 772.82 L945.3 770.76 L949.3 768.72 L953.3 766.70 L957.3 764.71 L961.3 762.75 L965.3 760.82 L969.3 758.92 L973.3 757.06 L977.3 755.23 L981.3 753.44 L985.3 751.69 L989.3 749.98 L993.3 748.31 L997.3 746.68 L1001.3 745.09 L1005.3 743.54 L1009.3 742.03 L1013.3 740.55 L1017.3 739.11 L1021.3 737.70 L1025.3 736.33 L1029.3 734.99 L1033.3 733.69 L1037.3 732.42 L1041.3 731.18 L1045.3 729.97 L1049.3 728.79 L1053.3 727.63 L1057.3 726.51 L1061.3 725.41 L1065.3 724.34 L1069.3 723.29 L1073.3 722.27 L1077.3 721.26 L1081.3 720.28 L1085.3 719.33 L1089.3 718.39 L1093.3 717.47 L1097.3 716.58 L1101.3 715.70 L1105.3 714.84 L1109.3 714.01 L1113.3 713.19 L1117.3 712.39 L1121.3 711.61 L1125.3 710.84 L1129.3 710.10 L1133.3 709.37 L1137.3 708.66 L1141.3 707.96 L1145.3 707.28 L1149.3 706.61 L1153.3 705.97 L1157.3 705.33 L1161.3 704.71 L1165.3 704.10 L1169.3 703.51 L1173.3 702.93 L1177.3 702.37 L1181.3 701.82 L1185.3 701.27 L1189.3 700.74 L1193.3 700.23 L1197.3 699.72 L1201.3 699.22 L1205.3 698.73 L1209.3 698.25 L1213.3 697.78 L1217.3 697.32 L1221.3 696.86 L1225.3 696.42 L1229.3 695.98 L1233.3 695.55 L1237.3 695.12 L1241.3 694.71 L1245.3 694.30 L1249.3 693.90 L1253.3 693.50 L1257.3 693.12 L1261.3 692.74 L1265.3 692.37 L1269.3 692.01 L1273.3 691.66 L1277.3 691.31 L1281.3 690.97 L1285.3 690.64 L1289.3 690.32 L1293.3 690.01 L1297.3 689.70 L1301.3 689.40 L1305.3 689.11 L1309.3 688.82 L1313.3 688.54 L1317.3 688.27 L1321.3 688.00 L1325.3 687.73 L1329.3 687.48 L1333.3 687.23 L1337.3 686.98 L1341.3 686.74 L1345.3 686.50 L1349.3 686.28 L1353.3 686.05 L1357.3 685.84 L1361.3 685.62 L1365.3 685.42 L1369.3 685.22 L1373.3 685.03 L1377.3 684.84 L1381.3 684.66 L1385.3 684.49 L1389.3 684.32 L1393.3 684.16 L1397.3 684.00 L1401.3 683.85 L1405.3 683.70 L1409.3 683.56 L1413.3 683.42 L1417.3 683.29 L1421.3 683.16 L1425.3 683.03 L1429.3 682.91 L1433.3 682.79 L1437.3 682.67 L1441.3 682.56 L1445.3 682.44 L1449.3 682.34 L1453.3 682.23 L1457.3 682.13 L1461.3 682.03 L1465.3 681.93 L1469.3 681.83 L1473.3 681.74 L1477.3 681.65 L1481.3 681.56 L1485.3 681.47 L1489.3 681.39 L1493.3 681.30 L1497.3 681.22 L1501.3 681.14 L1505.3 681.07 L1509.3 680.99 L1513.3 680.92 L1517.3 680.85 L1521.3 680.78 L1525.3 680.71 L1529.3 680.64 L1533.3 680.58 L1537.3 680.52 L1541.3 680.45 L1545.3 680.39 L1549.3 680.34 L1553.3 680.28 L1557.3 680.22 L1561.3 680.17 L1565.3 680.12 L1569.3 680.06 L1573.3 680.01 L1577.3 679.96 L1581.3 679.92 L1585.3 679.87 L1589.3 679.82 L1593.3 679.78 L1597.3 679.74 L1601.3 679.69 L1605.3 679.65 L1609.3 679.61 L1613.3 679.57 L1617.3 679.54 L1621.3 679.50 L1625.3 679.46 L1629.3 679.43 L1633.3 679.39 L1637.3 679.36 L1641.3 679.33 L1645.3 679.29 L1649.3 679.26 L1653.3 679.23 L1657.3 679.20 L1661.3 679.17 L1665.3 679.15 L1669.3 679.12 L1673.3 679.09 L1677.3 679.06 L1681.3 679.04 L1685.3 679.01 L1689.3 678.99 L1693.3 678.97 L1697.3 678.94 L1701.3 678.92 L1705.3 678.90 L1709.3 678.88 L1713.3 678.86 L1717.3 678.84 L1721.3 678.82 L1725.3 678.80 L1729.3 678.78 L1733.3 678.76 L1737.3 678.74 L1741.3 678.72 L1745.3 678.71 L1749.3 678.69 L1753.3 678.68 L1757.3 678.66 L1761.3 678.64 L1765.3 678.63 L1769.3 678.61 L1773.3 678.60 L1777.3 678.59 L1781.3 678.57 L1785.3 678.56 L1789.3 678.55 L1793.3 678.53 L1797.3 678.52 L1801.3 678.51 L1805.3 678.50 L1809.3 678.49 L1813.3 678.48 L1817.3 678.47 L1821.3 678.46 L1825.3 678.45 L1829.3 678.44 L1833.3 678.43 L1837.3 678.42 L1841.3 678.41 L1845.3 678.40 L1849.3 678.39 L1853.3 678.38 L1857.3 678.37 L1861.3 678.36 L1865.3 678.36 L1869.3 678.35 L1873.3 678.34 L1877.3 678.33 L1881.3 678.33 L1885.3 678.32 L1889.3 678.31 L1893.3 678.31 L1897.3 678.30 L1901.3 678.29 L1905.3 678.29 L1909.3 678.28 L1913.3 678.28 L1917.3 678.27 L1921.3 678.27 L1925.3 678.26 L1929.3 678.25 L1933.3 678.25 L1937.3 678.24 L1941.3 678.24 L1945.3 678.23 L1949.3 678.23 L1953.3 678.23 L1957.3 678.22 L1961.3 678.22 L1965.3 678.21 L1969.3 678.21 L1973.3 678.21 L1977.3 678.20 L1981.3 678.20 L1985.2 678.19" stroke="#ff0000" stroke-width="9.5" fill="none" stroke-linejoin="round"/>
<g stroke="#ff00ff" fill="none" stroke-dasharray="25.9 8.2 8.1 8.2"><path d="M273.5 739.0H1025.3" stroke-width="6"/><path d="M1025.0 1283.5V738.0" stroke-width="6"/></g>
<rect x="314.0" y="89.8" width="510.79999999999995" height="229.5" fill="#fff" stroke="#262626" stroke-width="3.4"/>
<path d="M330 150.5H488" stroke="#0000ff" stroke-width="9"/>
<text transform="translate(502.5,184.8) scale(1,1.038)" font-size="84.4" text-anchor="start" fill="#000" >100-pris</text>
<path d="M330 258.5H488" stroke="#ff0000" stroke-width="9"/>
<text transform="translate(502.5,292.7) scale(1,1.038)" font-size="84.4" text-anchor="start" fill="#000" >110-pris</text>
<rect x="1404.6" y="1021.4" width="539.1000000000001" height="230.80000000000007" fill="#fff" stroke="#262626" stroke-width="3.4"/>
<path d="M1420 1082.5H1579" stroke="#0000ff" stroke-width="9"/>
<text transform="translate(1592.5,1117.1) scale(1,1.038)" font-size="84.4" text-anchor="start" fill="#000" >100-2nm</text>
<path d="M1420 1190.8H1579" stroke="#ff0000" stroke-width="9"/>
<text transform="translate(1592.5,1225.9) scale(1,1.038)" font-size="84.4" text-anchor="start" fill="#000" >110-2nm</text>
<rect x="1791" y="50" width="192.70000000000005" height="196.5" fill="#fff"/>
<rect x="1791" y="668" width="192.70000000000005" height="197.29999999999995" fill="#fff"/>
<text transform="translate(1807.66328125,200.44430625) scale(1,1.027)" font-size="129.6" text-anchor="start" fill="#000" >(a)</text>
<text transform="translate(1807.66328125,819.54430625) scale(1,1.027)" font-size="129.6" text-anchor="start" fill="#000" >(b)</text>
<text transform="translate(240.6,96.8) scale(1,1.038)" font-size="93.75" text-anchor="end" fill="#262626" >400</text>
<text transform="translate(240.6,399.0) scale(1,1.038)" font-size="93.75" text-anchor="end" fill="#262626" >200</text>
<text transform="translate(240.6,702.1) scale(1,1.038)" font-size="93.75" text-anchor="end" fill="#262626" >0</text>
<text transform="translate(240.6,772.7) scale(1,1.038)" font-size="93.75" text-anchor="end" fill="#262626" >50</text>
<text transform="translate(240.6,1322.1) scale(1,1.038)" font-size="93.75" text-anchor="end" fill="#262626" >0</text>
<text transform="translate(227.0,1434.9) scale(1,1.038)" font-size="93.75" fill="#262626">10<tspan font-size="74.0" dx="2.7" dy="-42.6">-2</tspan></text>
<rect x="232.3" y="1426.5" width="18.0" height="10.6" fill="#fff"/><rect x="259.2" y="1426.5" width="17.3" height="10.6" fill="#fff"/>
<text transform="translate(582.9,1434.9) scale(1,1.038)" font-size="93.75" fill="#262626">10<tspan font-size="74.0" dx="2.7" dy="-42.6">-1</tspan></text>
<rect x="588.2" y="1426.5" width="18.0" height="10.6" fill="#fff"/><rect x="615.1" y="1426.5" width="17.3" height="10.6" fill="#fff"/>
<rect x="718.7" y="1383.9" width="14.2" height="9.0" fill="#fff"/><rect x="740.0" y="1383.9" width="13.7" height="9.0" fill="#fff"/>
<text transform="translate(952.0,1434.9) scale(1,1.038)" font-size="93.75" fill="#262626">10<tspan font-size="74.0" dx="2.7" dy="-42.6">0</tspan></text>
<rect x="957.3" y="1426.5" width="18.0" height="10.6" fill="#fff"/><rect x="984.2" y="1426.5" width="17.3" height="10.6" fill="#fff"/>
<text transform="translate(1304.4,1434.9) scale(1,1.038)" font-size="93.75" fill="#262626">10<tspan font-size="74.0" dx="2.7" dy="-42.6">1</tspan></text>
<rect x="1309.7" y="1426.5" width="18.0" height="10.6" fill="#fff"/><rect x="1336.6" y="1426.5" width="17.3" height="10.6" fill="#fff"/>
<rect x="1415.5" y="1383.9" width="14.2" height="9.0" fill="#fff"/><rect x="1436.8" y="1383.9" width="13.7" height="9.0" fill="#fff"/>
<text transform="translate(1660.4,1434.9) scale(1,1.038)" font-size="93.75" fill="#262626">10<tspan font-size="74.0" dx="2.7" dy="-42.6">2</tspan></text>
<rect x="1665.7" y="1426.5" width="18.0" height="10.6" fill="#fff"/><rect x="1692.6" y="1426.5" width="17.3" height="10.6" fill="#fff"/>
<rect x="507.2" y="177.2" width="16.2" height="9.8" fill="#fff"/><rect x="531.5" y="177.2" width="15.6" height="9.8" fill="#fff"/>
<rect x="507.2" y="285.1" width="16.2" height="9.8" fill="#fff"/><rect x="531.5" y="285.1" width="15.6" height="9.8" fill="#fff"/>
<rect x="554.2" y="285.1" width="16.2" height="9.8" fill="#fff"/><rect x="578.4" y="285.1" width="15.6" height="9.8" fill="#fff"/>
<rect x="1597.2" y="1109.5" width="16.2" height="9.8" fill="#fff"/><rect x="1621.5" y="1109.5" width="15.6" height="9.8" fill="#fff"/>
<rect x="1597.2" y="1218.3" width="16.2" height="9.8" fill="#fff"/><rect x="1621.5" y="1218.3" width="15.6" height="9.8" fill="#fff"/>
<rect x="1644.2" y="1218.3" width="16.2" height="9.8" fill="#fff"/><rect x="1668.4" y="1218.3" width="15.6" height="9.8" fill="#fff"/>
<text transform="translate(867.9,1560.9) scale(1,1.038)" font-size="93.75" text-anchor="start" fill="#262626" >Length</text>
<text transform="translate(1183.1864013671875,1560.9) scale(1,1.038)" font-size="93.75" text-anchor="start" fill="#262626" >(</text>
<text transform="translate(1217.0,1561.5)" font-size="86" fill="#262626" font-family="'DejaVu Serif', 'Liberation Serif', serif" font-style="italic">μ</text>
<text transform="translate(1278.8,1560.9) scale(1,1.038)" font-size="93.75" text-anchor="start" fill="#262626" >m)</text>
<text transform="translate(101.6,853.6) rotate(-90) scale(1.04,0.93)" font-size="100" fill="#262626" font-family="'Liberation Serif', 'DejaVu Serif', serif" font-style="italic" stroke="#262626" stroke-width="1.2">κ</text>
<text transform="translate(100.1,770.2) rotate(-90) scale(1,1.038)" font-size="93.75" fill="#262626">(W/mK)</text>
</svg>
</body></html>
